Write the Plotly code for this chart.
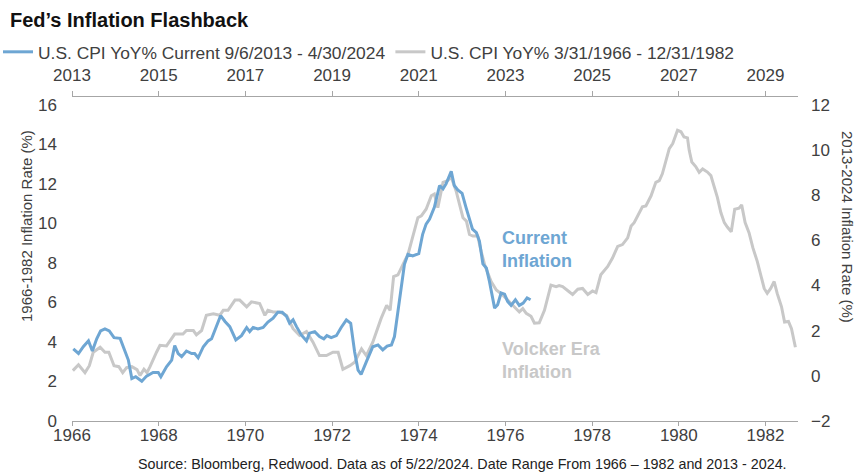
import plotly.graph_objects as go

# 1966-1982 CPI YoY% (decimal year, %)
volcker_x = [1966.27, 1966.40, 1966.55, 1966.65, 1966.74, 1966.90, 1967.01, 1967.10, 1967.22, 1967.33,
             1967.42, 1967.51, 1967.63, 1967.75, 1967.82, 1967.91, 1967.98, 1968.05, 1968.20, 1968.28,
             1968.43, 1968.62, 1968.81, 1968.89, 1969.05, 1969.12, 1969.24, 1969.35, 1969.51, 1969.66,
             1969.74, 1969.85, 1970.01, 1970.12, 1970.28, 1970.39, 1970.58, 1970.70, 1970.77, 1970.89,
             1971.04, 1971.20, 1971.35, 1971.50, 1971.66, 1971.81, 1971.96, 1972.12, 1972.27, 1972.39,
             1972.50, 1972.66, 1972.77, 1972.93, 1973.04, 1973.19, 1973.38, 1973.51, 1973.59, 1973.67,
             1973.77, 1973.84, 1973.92, 1974.00, 1974.08, 1974.23, 1974.31, 1974.42, 1974.54, 1974.61,
             1974.69, 1974.81, 1974.92, 1975.00, 1975.11, 1975.19, 1975.27, 1975.35, 1975.42, 1975.50,
             1975.61, 1975.69, 1975.77, 1975.92, 1976.04, 1976.19, 1976.34, 1976.50, 1976.57, 1976.65,
             1976.73, 1976.84, 1976.92, 1977.03, 1977.15, 1977.30, 1977.42, 1977.49, 1977.57, 1977.72,
             1977.80, 1977.92, 1978.03, 1978.15, 1978.26, 1978.34, 1978.45, 1978.61, 1978.72, 1978.84,
             1978.95, 1979.07, 1979.15, 1979.22, 1979.30, 1979.41, 1979.49, 1979.61, 1979.72, 1979.80,
             1979.87, 1979.95, 1980.03, 1980.11, 1980.17, 1980.22, 1980.30, 1980.37, 1980.45, 1980.49,
             1980.55, 1980.64, 1980.72, 1980.80, 1980.91, 1980.99, 1981.07, 1981.14, 1981.22, 1981.30,
             1981.37, 1981.46, 1981.54, 1981.64, 1981.70, 1981.78, 1981.87, 1981.96, 1982.06, 1982.14,
             1982.22, 1982.29, 1982.37, 1982.45, 1982.52, 1982.62, 1982.69, 1982.78, 1982.85, 1982.94]
volcker_y = [2.55, 2.85, 2.45, 2.80, 3.48, 3.73, 3.48, 3.48, 2.80, 2.75,
             2.45, 2.70, 2.75, 2.60, 2.30, 2.62, 2.45, 2.75, 3.48, 3.83,
             3.80, 4.40, 4.40, 4.58, 4.58, 4.36, 4.58, 5.35, 5.43, 5.35,
             5.60, 5.60, 6.12, 6.12, 5.78, 6.03, 5.95, 5.35, 5.60, 5.52,
             5.52, 5.35, 4.67, 4.33, 4.53, 3.99, 3.31, 3.31, 3.48, 3.48,
             2.62, 2.80, 2.97, 3.65, 3.31, 3.99, 5.18, 5.86, 5.60, 7.31,
             7.40, 7.74, 8.08, 8.42, 9.10, 10.29, 10.38, 10.72, 11.40, 11.49,
             10.80, 12.08, 12.17, 12.34, 11.66, 10.98, 10.29, 10.12, 9.44, 9.36,
             9.36, 8.59, 7.91, 7.06, 6.63, 6.37, 6.03, 5.70, 5.52, 5.69,
             5.45, 5.30, 4.95, 4.97, 5.60, 6.88, 6.80, 6.85, 6.80, 6.54,
             6.40, 6.67, 6.71, 6.40, 6.58, 6.50, 7.40, 7.82, 8.25, 8.84,
             8.93, 9.27, 9.87, 10.04, 10.38, 10.84, 10.89, 11.40, 12.08, 12.17,
             12.51, 13.11, 13.79, 14.04, 14.38, 14.72, 14.64, 14.38, 14.33, 13.70,
             13.11, 12.88, 12.59, 12.76, 12.60, 12.42, 11.83, 11.32, 10.55, 10.04,
             9.82, 9.58, 10.72, 10.77, 10.94, 10.04, 9.53, 8.76, 8.08, 7.40,
             6.71, 6.46, 6.71, 7.06, 6.46, 5.78, 5.01, 5.04, 4.67, 3.73]

# 2013-2024 CPI YoY% (decimal year, %)
current_x = [2013.71, 2013.83, 2013.94, 2014.06, 2014.15, 2014.25, 2014.34, 2014.44, 2014.54, 2014.65,
             2014.79, 2014.86, 2014.98, 2015.06, 2015.15, 2015.29, 2015.40, 2015.55, 2015.67, 2015.73,
             2015.86, 2015.98, 2016.05, 2016.13, 2016.21, 2016.32, 2016.44, 2016.51, 2016.59, 2016.71,
             2016.82, 2016.90, 2017.01, 2017.11, 2017.21, 2017.32, 2017.46, 2017.59, 2017.71, 2017.78,
             2017.86, 2017.97, 2018.09, 2018.20, 2018.32, 2018.43, 2018.53, 2018.63, 2018.70, 2018.78,
             2018.86, 2018.97, 2019.09, 2019.16, 2019.28, 2019.39, 2019.49, 2019.56, 2019.66, 2019.78,
             2019.89, 2020.01, 2020.11, 2020.20, 2020.28, 2020.35, 2020.47, 2020.62, 2020.74, 2020.85,
             2020.95, 2021.05, 2021.12, 2021.20, 2021.28, 2021.35, 2021.43, 2021.54, 2021.68, 2021.77,
             2021.85, 2021.93, 2022.04, 2022.16, 2022.24, 2022.31, 2022.43, 2022.50, 2022.58, 2022.68,
             2022.77, 2022.85, 2022.92, 2023.01, 2023.08, 2023.16, 2023.24, 2023.31, 2023.39, 2023.43,
             2023.50, 2023.58, 2023.66, 2023.73, 2023.81, 2023.91, 2024.00, 2024.09, 2024.18, 2024.26]
current_y = [1.19, 0.99, 1.29, 1.55, 1.10, 1.64, 1.99, 2.08, 1.99, 1.69,
             1.66, 1.29, 0.70, -0.12, -0.04, -0.24, -0.01, 0.15, 0.15, -0.04,
             0.40, 0.70, 1.34, 0.99, 0.85, 1.10, 0.99, 0.99, 0.80, 1.29,
             1.55, 1.64, 2.14, 2.67, 2.41, 2.18, 1.59, 1.78, 2.14, 1.96,
             2.14, 2.08, 2.14, 2.38, 2.55, 2.82, 2.82, 2.63, 2.33, 2.48,
             2.18, 1.81, 1.55, 1.89, 1.96, 1.74, 1.64, 1.78, 1.69, 1.78,
             2.14, 2.48, 2.33, 1.07, 0.25, 0.06, 0.62, 1.29, 1.37, 1.15,
             1.32, 1.37, 1.74, 2.85, 4.20, 4.94, 5.38, 5.31, 5.41, 6.27,
             6.72, 6.94, 7.46, 8.43, 8.28, 8.50, 9.06, 8.43, 8.23, 8.08,
             7.46, 6.94, 6.50, 6.34, 5.97, 4.96, 4.78, 4.19, 3.45, 3.00,
             3.15, 3.67, 3.62, 3.30, 3.12, 3.37, 3.12, 3.22, 3.45, 3.37]

# Axis tick labels (ticks every 24 months from each series' start)
bottom_start = 1966.25   # 3/31/1966
top_start = 2013.68      # 9/6/2013
span_years = 16.75
bottom_ticktext = ["1966", "1968", "1970", "1972", "1974", "1976", "1978", "1980", "1982"]
top_ticktext = ["2013", "2015", "2017", "2019", "2021", "2023", "2025", "2027", "2029"]
left_ticks = [0, 2, 4, 6, 8, 10, 12, 14, 16]
right_ticks = [-2, 0, 2, 4, 6, 8, 10, 12]

BLUE = "#6ea6d3"
GRAY = "#c8c8c8"
AXIS = "#a6a6a6"
TXT = "#404040"
FONT = "Liberation Sans, Arial, sans-serif"

fig = go.Figure()
fig.add_trace(go.Scatter(
    x=volcker_x, y=volcker_y, mode="lines", name="U.S. CPI YoY% 3/31/1966 - 12/31/1982",
    line=dict(color=GRAY, width=3), xaxis="x", yaxis="y", legendrank=2))
fig.add_trace(go.Scatter(
    x=current_x, y=current_y, mode="lines", name="U.S. CPI YoY% Current 9/6/2013 - 4/30/2024",
    line=dict(color=BLUE, width=3), xaxis="x2", yaxis="y2", legendrank=1))

fig.update_layout(
    width=867, height=474,
    margin=dict(l=72, r=69, t=97, b=53, autoexpand=False),
    paper_bgcolor="white", plot_bgcolor="white",
    font=dict(family=FONT, size=16, color=TXT),
    title=dict(text="<b>Fed’s Inflation Flashback</b>", x=10 / 867, xref="container", xanchor="left",
               y=(474 - 20) / 474, yref="container", yanchor="middle",
               font=dict(family="Liberation Sans Narrow, Arial Narrow, sans-serif", size=20, color="#111111")),
    showlegend=True,
    legend=dict(orientation="h", xref="paper", x=(-2 - 72) / 726, xanchor="left",
                yref="paper", y=1 + (97 - 52) / 324, yanchor="middle",
                font=dict(size=17.4, color=TXT), itemwidth=30, bgcolor="rgba(0,0,0,0)"),
    xaxis=dict(range=[bottom_start, bottom_start + span_years],
               tickmode="array",
               tickvals=[bottom_start + 2 * i for i in range(len(bottom_ticktext))],
               ticktext=bottom_ticktext,
               showline=True, linecolor=AXIS, linewidth=1,
               ticks="outside", ticklen=4, tickcolor=AXIS, ticklabelstandoff=-5,
               showgrid=False, zeroline=False, tickfont=dict(size=17, color=TXT)),
    xaxis2=dict(range=[top_start, top_start + span_years],
                tickmode="array",
                tickvals=[top_start + 2 * i for i in range(len(top_ticktext))],
                ticktext=top_ticktext,
                overlaying="x", side="top", anchor="y",
                showline=True, linecolor=AXIS, linewidth=1,
                ticks="outside", ticklen=5, tickcolor=AXIS, ticklabelstandoff=3,
                showgrid=False, zeroline=False, tickfont=dict(size=17, color=TXT)),
    yaxis=dict(range=[0, 16.4], tickmode="array", tickvals=left_ticks,
               showline=False, showgrid=False, zeroline=False, ticks="",
               ticklabelstandoff=14, tickfont=dict(size=17, color=TXT)),
    yaxis2=dict(range=[-2, 12.35], tickmode="array", tickvals=right_ticks,
                overlaying="y", side="right", anchor="x2",
                showline=False, showgrid=False, zeroline=False, ticks="",
                ticklabelstandoff=12, tickfont=dict(size=17, color=TXT)),
)

# Axis titles (placed as in the reference, above the axes' centres)
fig.add_annotation(text="1966-1982 Inflation Rate (%)", xref="paper", yref="paper",
                   x=(26 - 72) / 726, y=(421 - 226) / 324, xanchor="center", yanchor="middle",
                   textangle=-90, showarrow=False, font=dict(size=15, color=TXT))
fig.add_annotation(text="2013-2024 Inflation Rate (%)", xref="paper", yref="paper",
                   x=(848 - 72) / 726, y=(421 - 227) / 324, xanchor="center", yanchor="middle",
                   textangle=90, showarrow=False, font=dict(size=15, color=TXT))

fig.add_annotation(text="<b>Current<br>Inflation</b>", xref="paper", yref="paper",
                   x=(500 - 72) / 726, y=(421 - 249) / 324, xanchor="left", yanchor="middle",
                   align="left", showarrow=False, font=dict(size=18, color=BLUE))
fig.add_annotation(text="<b>Volcker Era<br>Inflation</b>", xref="paper", yref="paper",
                   x=(500 - 72) / 726, y=(421 - 360.5) / 324, xanchor="left", yanchor="middle",
                   align="left", showarrow=False, font=dict(size=18, color=GRAY))
fig.add_annotation(text="Source: Bloomberg, Redwood. Data as of 5/22/2024. Date Range From 1966 – 1982 and 2013 - 2024.",
                   xref="paper", yref="paper", x=(463 - 72) / 726, y=(421 - 464) / 324,
                   xanchor="center", yanchor="middle", showarrow=False,
                   font=dict(family="Liberation Sans Narrow, Arial Narrow, sans-serif", size=14.3, color="#222222"))

fig.write_html("out.html", config={"displayModeBar": False},
               post_script="document.body.style.margin='0';")
